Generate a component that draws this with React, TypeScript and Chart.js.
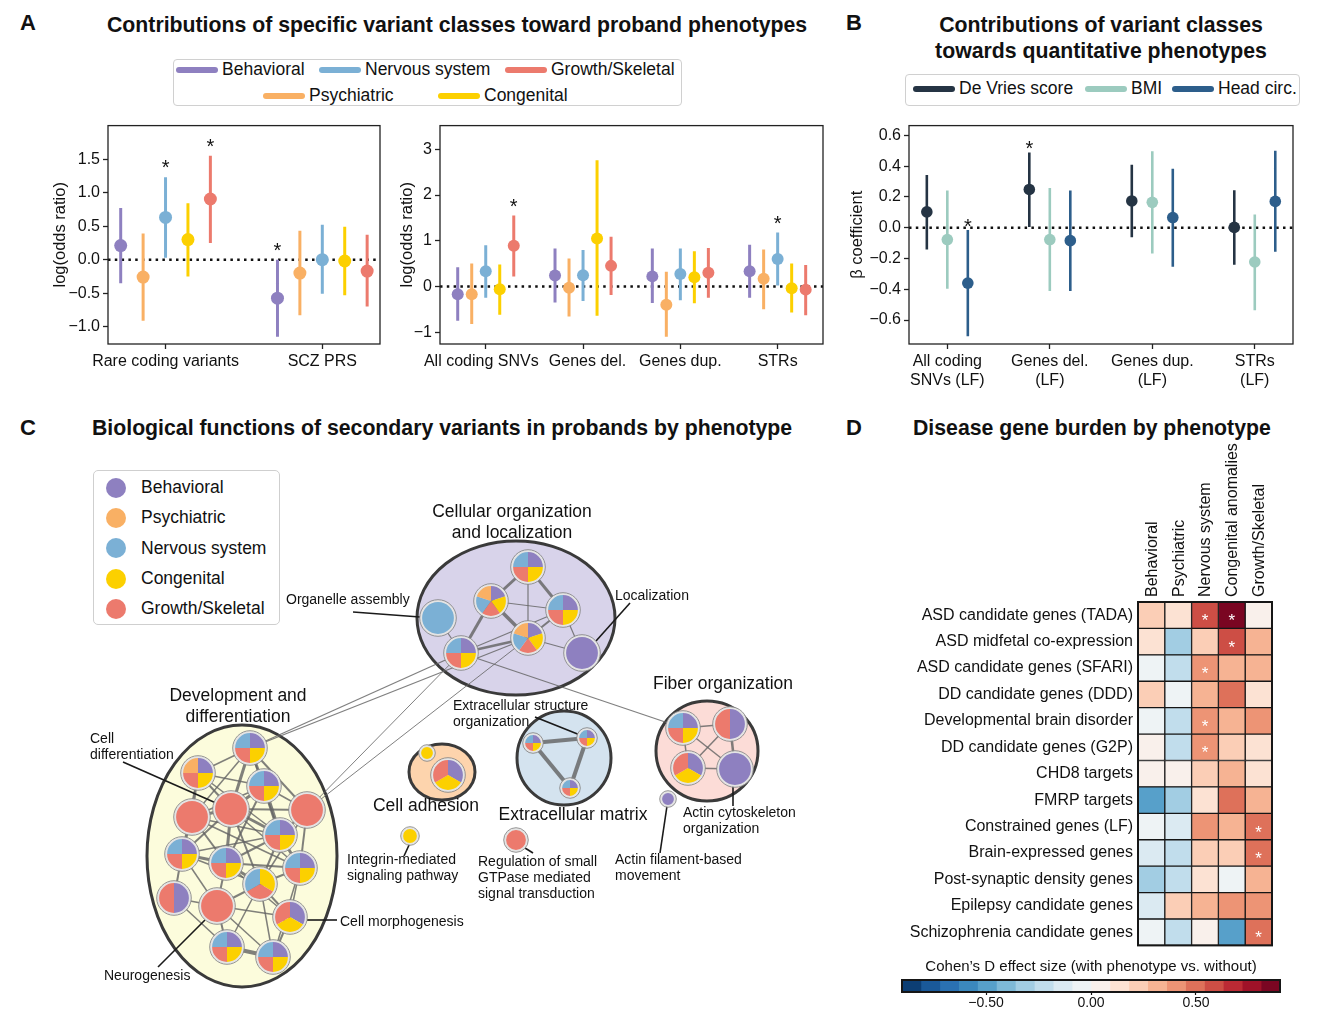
import React, { useEffect, useRef } from 'react';
import { Chart, registerables } from 'chart.js';
Chart.register(...registerables);

const FONT = '"Liberation Sans", Arial, Helvetica, sans-serif';
Chart.defaults.font.family = FONT;
Chart.defaults.color = '#111';

/* ---------------- Panel A data ---------------- */
const phenotypes = ['Behavioral', 'Psychiatric', 'Nervous system', 'Congenital', 'Growth/Skeletal'];
const phenoColors = ['#8e80c0', '#f9b064', '#7bb0d5', '#fcd000', '#ec7a6d'];

const aLeftCats = ['Rare coding variants', 'SCZ PRS'];
// rows = phenotype, cols = category
const aLeftEst = [[0.21, -0.575], [-0.26, -0.2], [0.63, 0.0], [0.3, -0.02], [0.905, -0.17]];
const aLeftLo = [[-0.35, -1.15], [-0.91, -0.83], [0.03, -0.51], [-0.25, -0.53], [0.25, -0.7]];
const aLeftHi = [[0.77, 0.0], [0.39, 0.43], [1.23, 0.52], [0.84, 0.49], [1.55, 0.37]];
const aLeftStar = [[0, 1], [0, 0], [1, 0], [0, 0], [1, 0]];

const aRightCats = ['All coding SNVs\u00a0\u00a0', '\u00a0\u00a0Genes del.', 'Genes dup.', 'STRs'];
const aRightEst = [
  [-0.17, 0.24, 0.22, 0.33],
  [-0.17, -0.03, -0.4, 0.17],
  [0.33, 0.245, 0.27, 0.6],
  [-0.06, 1.05, 0.2, -0.04],
  [0.89, 0.45, 0.3, -0.07],
];
const aRightLo = [
  [-0.75, -0.35, -0.36, -0.25],
  [-0.82, -0.66, -1.1, -0.5],
  [-0.25, -0.32, -0.3, 0.02],
  [-0.62, -0.64, -0.37, -0.57],
  [0.22, -0.19, -0.25, -0.63],
];
const aRightHi = [
  [0.42, 0.83, 0.83, 0.91],
  [0.5, 0.61, 0.32, 0.81],
  [0.9, 0.8, 0.83, 1.18],
  [0.48, 2.76, 0.77, 0.5],
  [1.55, 1.09, 0.84, 0.47],
];
const aRightStar = [[0, 0, 0, 0], [0, 0, 0, 0], [0, 0, 0, 1], [0, 0, 0, 0], [1, 0, 0, 0]];

/* ---------------- Panel B data ---------------- */
const bCats = [['All coding', 'SNVs (LF)'], ['Genes del.', '(LF)'], ['Genes dup.', '(LF)'], ['STRs', '(LF)']];
const bTraits = ['De Vries score', 'BMI', 'Head circ.'];
const bColors = ['#253444', '#9ccbbf', '#2d5e8b'];
const bEst = [[0.103, 0.249, 0.174, 0.002], [-0.077, -0.077, 0.165, -0.223], [-0.36, -0.084, 0.066, 0.171]];
const bLo = [[-0.141, 0.004, -0.062, -0.24], [-0.396, -0.411, -0.167, -0.536], [-0.705, -0.411, -0.253, -0.156]];
const bHi = [[0.343, 0.489, 0.409, 0.244], [0.242, 0.259, 0.497, 0.086], [-0.015, 0.242, 0.384, 0.501]];
const bStar = [[0, 1, 0, 0], [0, 0, 0, 0], [1, 0, 0, 0]];

/* ---------------- Panel D data ---------------- */
const heatRows = [
  'ASD candidate genes (TADA)', 'ASD midfetal co-expression', 'ASD candidate genes (SFARI)',
  'DD candidate genes (DDD)', 'Developmental brain disorder', 'DD candidate genes (G2P)',
  'CHD8 targets', 'FMRP targets', 'Constrained genes (LF)', 'Brain-expressed genes',
  'Post-synaptic density genes', 'Epilepsy candidate genes', 'Schizophrenia candidate genes',
];
const heatCols = ['Behavioral', 'Psychiatric', 'Nervous system', 'Congenital anomalies', 'Growth/Skeletal'];
const behavioralD = [0.22, 0.13, -0.04, 0.22, -0.04, 0.04, 0.04, -0.5, -0.04, -0.13, -0.3, -0.13, -0.04];
const psychiatricD = [0.13, -0.32, -0.22, -0.04, -0.22, -0.22, 0.04, -0.32, -0.13, -0.22, -0.22, 0.22, -0.22];
const nervousD = [0.58, 0.22, 0.4, 0.32, 0.4, 0.4, 0.22, 0.13, 0.4, 0.22, 0.13, 0.32, 0.04];
const congenitalD = [0.85, 0.58, 0.32, 0.5, 0.32, 0.22, 0.32, 0.5, 0.32, 0.22, -0.04, 0.4, -0.5];
const growthD = [0.04, 0.32, 0.32, 0.13, 0.38, 0.13, 0.13, 0.32, 0.5, 0.5, 0.32, 0.4, 0.5];
const heatStarRow = [0, 0, 1, 2, 4, 5, 8, 9, 12];
const heatStarCol = [2, 3, 3, 2, 2, 2, 4, 4, 4];
const cbTicks = [-0.5, 0, 0.5];

/* ---------------- Panel C data (network) ---------------- */
const Q = [0, 3, 4, 2];
const F = [0, 3, 4, 2, 1];
const nodeX = [528, 491, 563, 438, 528, 461, 582, 250, 198, 264, 192, 231, 307, 280, 182, 226, 300, 260, 174, 217, 290, 227, 273, 427, 448, 533, 587, 570, 683, 730, 688, 735, 410, 516, 668];
const nodeY = [567, 601, 610, 618, 638, 653, 653, 748, 773, 786, 817, 809, 810, 835, 854, 863, 868, 884, 898, 906, 917, 947, 957, 753, 775, 743, 738, 788, 728, 724, 768, 769, 836, 840, 799];
const nodeR = [16, 16, 16, 17, 16, 16, 17, 16, 16, 16, 17, 17, 17, 16, 16, 16, 16, 16, 16, 17, 16, 16, 16, 7, 16, 9, 9, 9, 16, 16, 16, 17, 8, 11, 7];
const nodeMix = [Q, F, Q, [2], F, Q, [0], Q, [0, 3, 4, 1], Q, [4], [4], [4], Q, Q, Q, Q, [3, 4, 2], [0, 4], [4], [0, 3, 4], Q, Q, [3], [0, 3, 4], Q, Q, Q, Q, [0, 4], [0, 3, 4], [0], [3], [4], [0]];
const edges: [number, number, number][] = [
  [0, 1, 3], [0, 2, 3], [0, 4, 1.2], [1, 4, 3.5], [1, 2, 1.2], [1, 5, 3], [2, 4, 2], [2, 6, 1.2], [4, 6, 1.2], [5, 4, 2.5], [5, 2, 1.2], [3, 5, 1.2],
  [5, 7, 1.3], [4, 7, 1.3], [5, 12, 1], [4, 12, 1], [5, 28, 1.3],
  [7, 8, 1.5], [7, 9, 3], [7, 11, 3], [7, 10, 1.5], [7, 13, 1.5], [7, 12, 2], [8, 10, 2], [8, 11, 2], [8, 9, 1.5], [9, 11, 3], [9, 13, 4], [9, 12, 1.5], [9, 10, 1.5],
  [10, 11, 3], [10, 14, 2], [10, 15, 2], [10, 13, 1.5], [11, 13, 3], [11, 15, 3], [11, 14, 2], [11, 12, 2], [11, 16, 1.5], [12, 13, 2], [12, 16, 2], [13, 15, 2],
  [13, 16, 3], [13, 17, 2], [14, 15, 3], [14, 18, 2], [14, 19, 1.5], [15, 17, 3], [15, 19, 2], [15, 16, 2], [16, 17, 2], [16, 20, 1.5], [17, 19, 2], [17, 20, 2],
  [17, 21, 1.5], [17, 22, 1.5], [18, 19, 1.5], [19, 21, 2], [19, 20, 1.5], [20, 22, 2], [21, 22, 4], [19, 22, 1.5], [15, 20, 1.5], [14, 17, 1.5], [10, 16, 1.5],
  [8, 13, 1.5], [9, 15, 2], [12, 17, 1.5], [16, 22, 1.5], [18, 21, 1.5], [8, 14, 1.5], [13, 14, 1.5], [11, 17, 2],
  [25, 26, 4], [25, 27, 4], [26, 27, 4],
  [28, 29, 1.5], [28, 30, 1.5], [28, 31, 1.5], [29, 30, 1.5], [29, 31, 2.5], [30, 31, 1.5],
];
const clusterX = [516, 242, 442, 564, 707];
const clusterY = [618, 856, 772, 758, 751];
const clusterRx = [99, 95, 33, 47, 51];
const clusterRy = [77, 131, 28, 47, 50];
const clusterFill = ['#d8d3ea', '#fcfcdc', '#fdd4ad', '#d4e3ef', '#fcdcd7'];

const netLabelText = ['Cellular organization', 'and localization', 'Development and', 'differentiation', 'Cell adhesion', 'Extracellular matrix', 'Fiber organization',
  'Organelle assembly', 'Localization', 'Extracellular structure', 'organization', 'Cell', 'differentiation', 'Neurogenesis', 'Cell morphogenesis',
  'Integrin-mediated', 'signaling pathway', 'Regulation of small', 'GTPase mediated', 'signal transduction', 'Actin filament-based', 'movement', 'Actin cytoskeleton', 'organization'];
const netLabelX = [512, 512, 238, 238, 426, 573, 723, 286, 615, 453, 453, 90, 90, 104, 340, 347, 347, 478, 478, 478, 615, 615, 683, 683];
const netLabelY = [511, 532, 695, 716, 805, 814, 683, 599, 595, 705, 721, 738, 754, 975, 921, 859, 875, 861, 877, 893, 859, 875, 812, 828];
const netLabelBig = [1, 1, 1, 1, 1, 1, 1, 0, 0, 0, 0, 0, 0, 0, 0, 0, 0, 0, 0, 0, 0, 0, 0, 0];
const leaderX1 = [353, 630, 535, 123, 158, 307, 410, 525, 667, 733];
const leaderY1 = [612, 603, 717, 762, 967, 920, 843, 848, 806, 782];
const leaderX2 = [420, 596, 580, 216, 205, 337, 404, 533, 660, 733];
const leaderY2 = [617, 641, 735, 803, 920, 920, 856, 853, 853, 806];

/* ---------------- helpers ---------------- */
const rdbuAnchors = ['#053061', '#2166ac', '#4393c3', '#92c5de', '#d1e5f0', '#f7f7f7', '#fddbc7', '#f4a582', '#d6604d', '#b2182b', '#67001f'];
function hexRgb(h: string) { return [parseInt(h.slice(1, 3), 16), parseInt(h.slice(3, 5), 16), parseInt(h.slice(5, 7), 16)]; }
function rdbu(t: number) {
  const p = t * 10; const i = Math.min(9, Math.floor(p)); const f = p - i;
  const a = hexRgb(rdbuAnchors[i]); const b = hexRgb(rdbuAnchors[i + 1]);
  return `rgb(${a.map((v, k) => Math.round(v + (b[k] - v) * f)).join(',')})`;
}
const NBIN = 20; const VMIN = -0.9; const VMAX = 0.9; const BW = (VMAX - VMIN) / NBIN;
const palette = Array.from({ length: NBIN }, (_, i) => rdbu((i + 0.5) / NBIN));
function colorFor(v: number) { return palette[Math.max(0, Math.min(NBIN - 1, Math.floor((v - VMIN) / BW)))]; }
const minusFmt = (v: number, d: number) => (v < -1e-9 ? '\u2212' : '') + Math.abs(v).toFixed(d);

const framePlugin = (lw: number, color: string) => ({
  id: 'frame',
  afterDatasetsDraw(chart: any) {
    const { ctx, chartArea: { left, top, right, bottom } } = chart;
    ctx.save(); ctx.strokeStyle = color; ctx.lineWidth = lw;
    ctx.strokeRect(left, top, right - left, bottom - top); ctx.restore();
  },
});

type ErrSpec = {
  cats: (string | string[])[]; est: number[][]; lo: number[][]; hi: number[][]; star: number[][];
  colors: string[]; labels: string[]; offsets: number[];
  xmin: number; xmax: number; ymin: number; ymax: number; yticks: number[]; ydec: number;
  ytitle: string; titlePad: number; yW: number; xH: number; pointR: number; barW: number; starGap: number;
};

function errorChart(canvas: HTMLCanvasElement, s: ErrSpec) {
  const datasets: any[] = [];
  datasets.push({ type: 'line', label: 'zero', data: [{ x: s.xmin, y: 0 }, { x: s.xmax, y: 0 }], borderColor: '#111', borderWidth: 2.5, borderDash: [2.5, 4.3], pointRadius: 0, order: 10 });
  s.est.forEach((row, k) => {
    const seg: any[] = [];
    row.forEach((_, i) => { const xv = i + s.offsets[k]; seg.push({ x: xv, y: s.lo[k][i] }, { x: xv, y: s.hi[k][i] }, { x: xv, y: null }); });
    datasets.push({ type: 'line', label: s.labels[k] + ' CI', data: seg, borderColor: s.colors[k], borderWidth: s.barW, pointRadius: 0, spanGaps: false, order: 5, borderCapStyle: 'butt' });
    datasets.push({ type: 'scatter', label: s.labels[k], data: row.map((v, i) => ({ x: i + s.offsets[k], y: v })), backgroundColor: s.colors[k], borderColor: s.colors[k], borderWidth: 0, pointRadius: s.pointR, pointHoverRadius: s.pointR, order: 1 });
  });
  const starPlugin = {
    id: 'stars',
    afterDatasetsDraw(chart: any) {
      const { ctx, scales: { x, y } } = chart;
      ctx.save(); ctx.fillStyle = '#111'; ctx.font = `20px ${FONT}`; ctx.textAlign = 'center'; ctx.textBaseline = 'alphabetic';
      s.star.forEach((row, k) => row.forEach((f, i) => {
        if (f) ctx.fillText('*', x.getPixelForValue(i + s.offsets[k]), y.getPixelForValue(s.hi[k][i]) - s.starGap);
      }));
      ctx.restore();
    },
  };
  return new Chart(canvas, {
    type: 'scatter',
    data: { datasets },
    options: {
      animation: false, responsive: false, events: [],
      layout: { padding: { left: 0, top: 10, right: 10, bottom: 0 } },
      plugins: { legend: { display: false }, tooltip: { enabled: false } },
      scales: {
        x: {
          type: 'linear', min: s.xmin, max: s.xmax, bounds: 'data',
          afterBuildTicks: (sc: any) => { sc.ticks = s.cats.map((_, i) => ({ value: i })); },
          afterFit: (sc: any) => { sc.height = s.xH; },
          ticks: { callback: (_v: any, i: number) => s.cats[i] as any, font: { size: 16 }, color: '#111', padding: 3, maxRotation: 0, autoSkip: false },
          grid: { display: true, drawOnChartArea: false, drawTicks: true, tickLength: 5, tickColor: '#222', tickWidth: 1.3 },
          border: { display: false },
        },
        y: {
          type: 'linear', min: s.ymin, max: s.ymax, bounds: 'data',
          afterBuildTicks: (sc: any) => { sc.ticks = s.yticks.map((v) => ({ value: v })); },
          afterFit: (sc: any) => { sc.width = s.yW; },
          ticks: { callback: (v: any) => minusFmt(Number(v), s.ydec), font: { size: 16 }, color: '#111', padding: 3 },
          grid: { display: true, drawOnChartArea: false, drawTicks: true, tickLength: 5, tickColor: '#222', tickWidth: 1.3 },
          border: { display: false },
          title: { display: true, text: s.ytitle, font: { size: 16.5 }, color: '#111', padding: { top: s.titlePad, bottom: 0 } },
        },
      },
    } as any,
    plugins: [framePlugin(1.3, '#222'), starPlugin],
  });
}

function heatChart(canvas: HTMLCanvasElement) {
  const cols = [behavioralD, psychiatricD, nervousD, congenitalD, growthD];
  const labelsPlugin = {
    id: 'colLabels',
    afterDatasetsDraw(chart: any) {
      const { ctx, chartArea, scales: { x, y } } = chart;
      ctx.save(); ctx.fillStyle = '#111'; ctx.font = `16px ${FONT}`; ctx.textAlign = 'left'; ctx.textBaseline = 'middle';
      heatCols.forEach((c, j) => {
        ctx.save(); ctx.translate(x.getPixelForValue(j + 0.5), chartArea.top - 5); ctx.rotate(-Math.PI / 2); ctx.fillText(c, 0, 1); ctx.restore();
      });
      ctx.fillStyle = '#fff'; ctx.textAlign = 'center'; ctx.textBaseline = 'alphabetic'; ctx.font = `17px ${FONT}`;
      heatStarRow.forEach((r, k) => {
        const px = x.getPixelForValue(heatStarCol[k] + 0.5); const py = y.getPixelForValue(r);
        ctx.fillText('*', px, py + 11);
      });
      ctx.restore();
    },
  };
  return new Chart(canvas, {
    type: 'bar',
    data: {
      labels: heatRows,
      datasets: heatCols.map((c, j) => ({
        label: c, data: heatRows.map(() => 1), backgroundColor: cols[j].map(colorFor),
        borderColor: '#161616', borderWidth: 1, borderSkipped: false, barPercentage: 1, categoryPercentage: 1,
      })),
    },
    options: {
      indexAxis: 'y', animation: false, responsive: false, events: [],
      layout: { padding: { top: 162, right: 8, bottom: 13, left: 0 } },
      plugins: { legend: { display: false }, tooltip: { enabled: false } },
      scales: {
        x: { type: 'linear', min: 0, max: 5, stacked: true, display: false },
        y: {
          type: 'category', stacked: true, grid: { display: false, drawTicks: false }, border: { display: false },
          ticks: { font: { size: 16 }, color: '#111', padding: 5, autoSkip: false },
          afterFit: (sc: any) => { sc.width = 258; },
        },
      },
    } as any,
    plugins: [framePlugin(2, '#161616'), labelsPlugin],
  });
}

function colorbarChart(canvas: HTMLCanvasElement) {
  return new Chart(canvas, {
    type: 'bar',
    data: {
      labels: [''],
      datasets: palette.map((col, i) => ({
        label: 'bin' + i, data: [[VMIN + i * BW, VMIN + (i + 1) * BW]], backgroundColor: col,
        borderWidth: 0, grouped: false, barPercentage: 1, categoryPercentage: 1,
      })),
    },
    options: {
      indexAxis: 'y', animation: false, responsive: false, events: [],
      layout: { padding: { top: 0, right: 10, bottom: 0, left: 12 } },
      plugins: {
        legend: { display: false }, tooltip: { enabled: false },
        title: { display: true, text: 'Cohen\u2019s D effect size (with phenotype vs. without)', font: { size: 15, weight: 'normal' }, color: '#111', padding: { top: 6, bottom: 4 } },
      },
      scales: {
        x: {
          type: 'linear', min: VMIN, max: VMAX, bounds: 'data',
          afterBuildTicks: (sc: any) => { sc.ticks = cbTicks.map((v) => ({ value: v })); },
          afterFit: (sc: any) => { sc.height = 23; },
          ticks: { callback: (v: any) => minusFmt(Number(v), 2), font: { size: 14 }, color: '#111', padding: 0 },
          grid: { display: true, drawOnChartArea: false, drawTicks: true, tickLength: 3, tickColor: '#111', tickWidth: 1.2 },
          border: { display: false },
        },
        y: { type: 'category', display: false },
      },
    } as any,
    plugins: [framePlugin(2, '#161616')],
  });
}

function networkChart(canvas: HTMLCanvasElement) {
  const datasets: any[] = edges.map(([a, b, w], i) => ({
    type: 'line', label: 'edge' + i, data: [{ x: nodeX[a], y: nodeY[a] }, { x: nodeX[b], y: nodeY[b] }],
    borderColor: 'rgba(100,100,100,0.82)', borderWidth: w, pointRadius: 0, order: 5,
  }));
  datasets.push({ type: 'scatter', label: 'nodes', data: nodeX.map((x, i) => ({ x, y: nodeY[i] })), pointRadius: 0, order: 1 });
  const plugin = {
    id: 'network',
    beforeDatasetsDraw(chart: any) {
      const { ctx, scales: { x, y } } = chart;
      const k = Math.abs(x.getPixelForValue(1) - x.getPixelForValue(0));
      ctx.save();
      clusterX.forEach((cx, i) => {
        ctx.beginPath();
        ctx.ellipse(x.getPixelForValue(cx), y.getPixelForValue(clusterY[i]), clusterRx[i] * k, clusterRy[i] * k, 0, 0, Math.PI * 2);
        ctx.fillStyle = clusterFill[i]; ctx.fill();
        ctx.lineWidth = 3; ctx.strokeStyle = '#3a3a3a'; ctx.stroke();
      });
      ctx.restore();
    },
    afterDatasetsDraw(chart: any) {
      const { ctx, scales: { x, y } } = chart;
      const k = Math.abs(x.getPixelForValue(1) - x.getPixelForValue(0));
      ctx.save();
      ctx.strokeStyle = '#1a1a1a'; ctx.lineWidth = 1.6;
      leaderX1.forEach((lx, i) => {
        ctx.beginPath(); ctx.moveTo(x.getPixelForValue(lx), y.getPixelForValue(leaderY1[i]));
        ctx.lineTo(x.getPixelForValue(leaderX2[i]), y.getPixelForValue(leaderY2[i])); ctx.stroke();
      });
      nodeX.forEach((nx, i) => {
        const cx = x.getPixelForValue(nx); const cy = y.getPixelForValue(nodeY[i]); const r = nodeR[i] * k;
        const mix = nodeMix[i]; const n = mix.length;
        mix.forEach((p, j) => {
          const a0 = -Math.PI / 2 + (j * 2 * Math.PI) / n; const a1 = a0 + (2 * Math.PI) / n;
          ctx.beginPath(); ctx.moveTo(cx, cy); ctx.arc(cx, cy, r, a0, a1); ctx.closePath();
          ctx.fillStyle = phenoColors[p]; ctx.fill();
        });
        ctx.beginPath(); ctx.arc(cx, cy, r, 0, Math.PI * 2); ctx.lineWidth = 2.2; ctx.strokeStyle = '#e4e4e4'; ctx.stroke();
        ctx.beginPath(); ctx.arc(cx, cy, r + 1.3, 0, Math.PI * 2); ctx.lineWidth = 0.9; ctx.strokeStyle = '#8a8a8a'; ctx.stroke();
      });
      ctx.fillStyle = '#111'; ctx.textBaseline = 'middle';
      netLabelText.forEach((t, i) => {
        const big = netLabelBig[i] === 1;
        ctx.font = `${big ? 17.5 : 14}px ${FONT}`;
        ctx.textAlign = big ? 'center' : 'left';
        ctx.fillText(t, x.getPixelForValue(netLabelX[i]), y.getPixelForValue(netLabelY[i]) + 1);
      });
      ctx.restore();
    },
  };
  return new Chart(canvas, {
    type: 'scatter',
    data: { datasets },
    options: {
      animation: false, responsive: false, events: [],
      layout: { padding: 0 },
      plugins: { legend: { display: false }, tooltip: { enabled: false } },
      scales: {
        x: { type: 'linear', min: 80, max: 820, display: false },
        y: { type: 'linear', min: 450, max: 1010, reverse: true, display: false },
      },
    } as any,
    plugins: [plugin],
  });
}

function ChartBox(props: { left: number; top: number; width: number; height: number; make: (c: HTMLCanvasElement) => Chart }) {
  const ref = useRef<HTMLCanvasElement>(null);
  useEffect(() => {
    const ch = props.make(ref.current as HTMLCanvasElement);
    return () => ch.destroy();
  }, []);
  return (
    <canvas ref={ref} width={props.width} height={props.height}
      style={{ position: 'absolute', left: props.left, top: props.top, width: props.width, height: props.height }} />
  );
}

function Txt(props: { x: number; y: number; size: number; bold?: boolean; children: any; center?: boolean; w?: number }) {
  const style: any = {
    position: 'absolute', top: props.y - props.size / 2, fontSize: props.size, lineHeight: 1,
    fontWeight: props.bold ? 'bold' : 'normal', whiteSpace: 'nowrap', color: '#111',
  };
  if (props.center) { style.left = props.x - (props.w || 400) / 2; style.width = props.w || 400; style.textAlign = 'center'; }
  else style.left = props.x;
  return <div style={style}>{props.children}</div>;
}

function Swatch(props: { x: number; y: number; color: string; label: string }) {
  return (
    <>
      <div style={{ position: 'absolute', left: props.x, top: props.y - 3, width: 42, height: 6, borderRadius: 3, background: props.color }} />
      <Txt x={props.x + 46} y={props.y} size={17.5}>{props.label}</Txt>
    </>
  );
}

const specALeft: ErrSpec = {
  cats: aLeftCats, est: aLeftEst, lo: aLeftLo, hi: aLeftHi, star: aLeftStar, colors: phenoColors, labels: phenotypes,
  offsets: [-0.286, -0.143, 0, 0.143, 0.286], xmin: -0.367, xmax: 1.368, ymin: -1.258, ymax: 2.0,
  yticks: [-1, -0.5, 0, 0.5, 1, 1.5], ydec: 1, ytitle: 'log(odds ratio)', titlePad: 11, yW: 68, xH: 40, pointR: 6.5, barW: 3, starGap: 3,
};
const specARight: ErrSpec = {
  cats: aRightCats, est: aRightEst, lo: aRightLo, hi: aRightHi, star: aRightStar, colors: phenoColors, labels: phenotypes,
  offsets: [-0.288, -0.144, 0, 0.144, 0.288], xmin: -0.47, xmax: 3.466, ymin: -1.26, ymax: 3.52,
  yticks: [-1, 0, 1, 2, 3], ydec: 0, ytitle: 'log(odds ratio)', titlePad: 8, yW: 50, xH: 40, pointR: 6, barW: 3, starGap: 2.5,
};
const specB: ErrSpec = {
  cats: bCats, est: bEst, lo: bLo, hi: bHi, star: bStar, colors: bColors, labels: bTraits,
  offsets: [-0.2, 0, 0.2], xmin: -0.374, xmax: 3.373, ymin: -0.756, ymax: 0.664,
  yticks: [-0.6, -0.4, -0.2, 0, 0.2, 0.4, 0.6], ydec: 1, ytitle: '\u03b2 coefficient', titlePad: 3, yW: 64, xH: 59, pointR: 5.8, barW: 2.6, starGap: -2.5,
};

const TS = 21.25;

export default function App() {
  return (
    <div style={{ position: 'absolute', left: 0, top: 0, width: 1318, height: 1029, background: '#fff', fontFamily: FONT, overflow: 'hidden' }}>
      {/* Panel A */}
      <Txt x={20} y={23} size={22} bold>A</Txt>
      <Txt x={107} y={26} size={TS} bold>Contributions of specific variant classes toward proband phenotypes</Txt>
      <div style={{ position: 'absolute', left: 173, top: 59, width: 509, height: 47, border: '1px solid #d0d0d0', borderRadius: 4, boxSizing: 'border-box' }} />
      <Swatch x={176} y={70} color={phenoColors[0]} label={phenotypes[0]} />
      <Swatch x={319} y={70} color={phenoColors[2]} label={phenotypes[2]} />
      <Swatch x={505} y={70} color={phenoColors[4]} label={phenotypes[4]} />
      <Swatch x={263} y={96} color={phenoColors[1]} label={phenotypes[1]} />
      <Swatch x={438} y={96} color={phenoColors[3]} label={phenotypes[3]} />
      <ChartBox left={40} top={113} width={350} height={271} make={(c) => errorChart(c, specALeft)} />
      <ChartBox left={390} top={113} width={443} height={271} make={(c) => errorChart(c, specARight)} />

      {/* Panel B */}
      <Txt x={846} y={23} size={22} bold>B</Txt>
      <Txt x={1101} y={26} size={TS} bold center w={420}>Contributions of variant classes</Txt>
      <Txt x={1101} y={52} size={TS} bold center w={420}>towards quantitative phenotypes</Txt>
      <div style={{ position: 'absolute', left: 905, top: 74, width: 395, height: 32, border: '1px solid #d0d0d0', borderRadius: 4, boxSizing: 'border-box' }} />
      <Swatch x={913} y={89} color={bColors[0]} label={bTraits[0]} />
      <Swatch x={1085} y={89} color={bColors[1]} label={bTraits[1]} />
      <Swatch x={1172} y={89} color={bColors[2]} label={bTraits[2]} />
      <ChartBox left={845} top={113} width={458} height={290} make={(c) => errorChart(c, specB)} />

      {/* Panel C */}
      <ChartBox left={80} top={450} width={740} height={560} make={networkChart} />
      <Txt x={20} y={428} size={22} bold>C</Txt>
      <Txt x={92} y={429} size={TS} bold>Biological functions of secondary variants in probands by phenotype</Txt>
      <div style={{ position: 'absolute', left: 93, top: 470, width: 187, height: 155, border: '1px solid #cfcfcf', borderRadius: 5, boxSizing: 'border-box', background: '#fff' }} />
      {[0, 1, 2, 3, 4].map((p, i) => (
        <React.Fragment key={p}>
          <div style={{ position: 'absolute', left: 106, top: 478 + i * 30.2, width: 20, height: 20, borderRadius: 10, background: phenoColors[p] }} />
          <Txt x={141} y={488 + i * 30.2} size={17.5}>{p === 3 ? 'Congenital' : phenotypes[p]}</Txt>
        </React.Fragment>
      ))}

      {/* Panel D */}
      <Txt x={846} y={428} size={22} bold>D</Txt>
      <Txt x={913} y={429} size={TS} bold>Disease gene burden by phenotype</Txt>
      <ChartBox left={880} top={440} width={400} height={520} make={heatChart} />
      <ChartBox left={890} top={952} width={400} height={63} make={colorbarChart} />
    </div>
  );
}
